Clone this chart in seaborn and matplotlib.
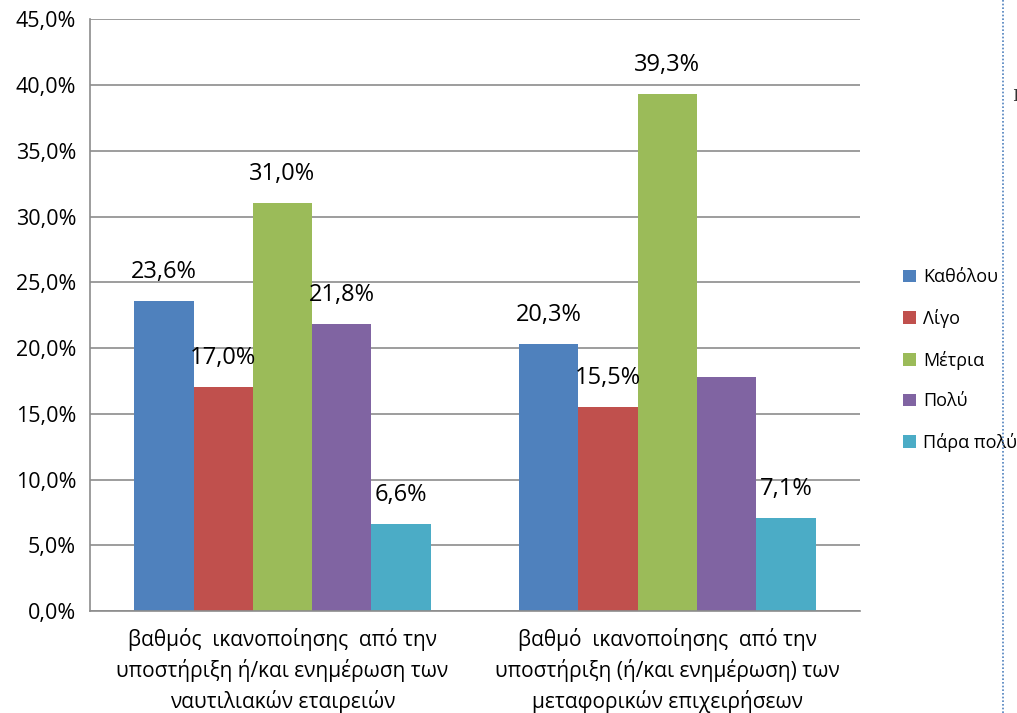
import matplotlib.pyplot as plt
import matplotlib.lines as mlines
import pandas as pd
import seaborn as sns

# categories and values
groups = [
    "βαθμός  ικανοποίησης  από την\nυποστήριξη ή/και ενημέρωση των\nναυτιλιακών εταιρειών",
    "βαθμό  ικανοποίησης  από την\nυποστήριξη (ή/και ενημέρωση) των\nμεταφορικών επιχειρήσεων",
]
levels = ["Καθόλου", "Λίγο", "Μέτρια", "Πολύ", "Πάρα πολύ"]
values_g1 = [23.6, 17.0, 31.0, 21.8, 6.6]
values_g2 = [20.3, 15.5, 39.3, 17.8, 7.1]
shown_g1 = [True, True, True, True, True]
shown_g2 = [True, True, True, False, True]
colors = ["#4F81BD", "#C0504D", "#9BBB59", "#8064A2", "#4BACC6"]

sns.set_style("white")
plt.rcParams['font.family'] = ['Open Sans', 'DejaVu Sans']
plt.rcParams['text.color'] = 'black'

df = pd.DataFrame({
    "group": [groups[0]] * 5 + [groups[1]] * 5,
    "level": levels * 2,
    "value": values_g1 + values_g2,
})

fig = plt.figure(figsize=(10.17, 7.13), dpi=100)
ax = fig.add_axes([0.0885, 0.143, 0.757, 0.83])

sns.barplot(data=df, x="group", y="value", hue="level", hue_order=levels,
            palette=colors, width=0.77, linewidth=0, saturation=1,
            ax=ax, legend=True)

ax.set_ylim(0, 45)
ax.set_xlim(-0.5, 1.5)
ax.set_yticks(range(0, 50, 5))
ax.set_yticklabels([f"{t:.1f}".replace(".", ",") + "%" for t in range(0, 50, 5)],
                   fontsize=15.5)
ax.yaxis.grid(True, color="#8c8c8c", linewidth=1.2)
ax.set_axisbelow(True)
ax.tick_params(axis="y", length=6, color="#8c8c8c", labelcolor="black",
               direction="out", pad=4)
ax.tick_params(axis="x", which="major", length=0, labelsize=15,
               labelcolor="black", pad=12)
for lab in ax.get_xticklabels():
    lab.set_linespacing(1.45)
ax.set_xticks([-0.5, 0.5, 1.5], minor=True)
ax.tick_params(axis="x", which="minor", length=6, color="#8c8c8c", direction="out")
ax.set_xlabel("")
ax.set_ylabel("")
for s in ["top", "right"]:
    ax.spines[s].set_visible(False)
for s in ["left", "bottom"]:
    ax.spines[s].set_color("#8c8c8c")
    ax.spines[s].set_linewidth(1.2)

# value labels above the bars
for i, cont in enumerate(ax.containers):
    flags = [shown_g1[i], shown_g2[i]]
    for bar, show in zip(cont, flags):
        if not show:
            continue
        h = bar.get_height()
        ax.annotate(f"{h:.1f}".replace(".", ",") + "%",
                    (bar.get_x() + bar.get_width() / 2, h),
                    xytext=(0, 21), textcoords="offset points",
                    ha="center", va="center", fontsize=17)

leg = ax.legend(loc="center left", bbox_to_anchor=(1.035, 0.424), frameon=False,
                fontsize=13, labelspacing=1.25, handlelength=0.7,
                handleheight=0.7, handletextpad=0.4)

# dotted frame edge on the right
fig.add_artist(mlines.Line2D([0.9865, 0.9865], [0.0, 1.0], color="#4F81BD",
                             linestyle=(0, (1, 1.2)), linewidth=1.2))
fig.text(0.9985, 0.864, "I", fontsize=12, family="DejaVu Serif",
         color="#333333", ha="center", va="center")

fig.savefig("out.png", dpi=100)
